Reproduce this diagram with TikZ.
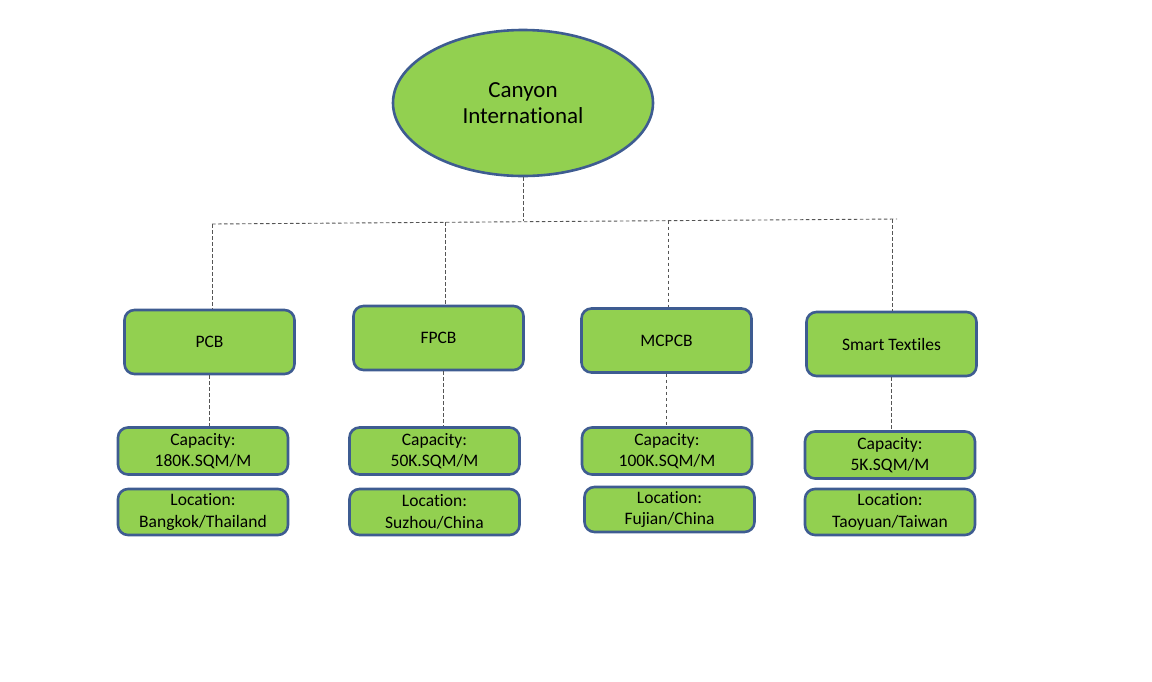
\documentclass[tikz,border=0pt]{standalone}
\usepackage{fontspec}
\setmainfont{Carlito}[Ligatures=NoCommon]
\usetikzlibrary{shapes.geometric}
\definecolor{boxfill}{HTML}{92D050}
\definecolor{boxline}{HTML}{3E5C91}
\definecolor{dashgray}{HTML}{555555}
\begin{document}
\begin{tikzpicture}[x=1pt,y=-1pt,
  unitbox/.style={draw=boxline,fill=boxfill,line width=2.6pt,rounded corners=10pt,
    minimum width=170pt,minimum height=64pt,inner sep=0pt,align=center,
    font=\fontsize{17.5}{21.5}\selectfont},
  infobox/.style={unitbox,minimum height=47pt},
  link/.style={draw=dashgray,line width=0.9pt,dash pattern=on 3.5pt off 2.5pt}]
\useasboundingbox (0,0) rectangle (1152,681);
\node[ellipse,draw=boxline,fill=boxfill,line width=2.6pt,minimum width=260pt,minimum height=146pt,
  inner sep=0pt,align=center,font=\fontsize{23}{26.5}\selectfont] (top) at (523,103) {Canyon\\International};

\node[unitbox] (pcb) at (209.5,342) {PCB};
\node[unitbox] (fpcb) at (438.5,338) {FPCB};
\node[unitbox] (mcpcb) at (666.5,340.5) {MCPCB};
\node[unitbox] (smart) at (891.5,344) {Smart Textiles};

\node[infobox] (cap1) at (203,451) {Capacity:\\180K.SQM/M};
\node[infobox] (cap2) at (434.5,451) {Capacity:\\50K.SQM/M};
\node[infobox] (cap3) at (667,451) {Capacity:\\100K.SQM/M};
\node[infobox] (cap4) at (890,455) {Capacity:\\5K.SQM/M};

\node[infobox,minimum height=46pt] (loc1) at (203,512) {Location:\\Bangkok/Thailand};
\node[infobox,minimum height=46pt] (loc2) at (434.5,512) {Location:\\Suzhou/China};
\node[infobox,minimum height=45pt] (loc3) at (669.5,509.5) {Location:\\Fujian/China};
\node[infobox,minimum height=46pt] (loc4) at (890,512) {Location:\\Taoyuan/Taiwan};

\coordinate (busL) at (212,224);
\coordinate (busR) at (897,219);
\coordinate (jc) at (523,221);
\coordinate (d1) at (212,224);
\coordinate (d2) at (445,222.3);
\coordinate (d3) at (668,220.7);
\coordinate (d4) at (892,219);

\draw[link] (top.south) -- (jc);
\draw[link] (busL) -- (busR);
\draw[link] (d1) -- (d1 |- pcb.north);
\draw[link] (d2) -- (d2 |- fpcb.north);
\draw[link] (d3) -- (d3 |- mcpcb.north);
\draw[link] (d4) -- (d4 |- smart.north);

\draw[link] (pcb.south) -- (pcb.south |- cap1.north);
\draw[link] ([xshift=5pt]fpcb.south) -- ([xshift=5pt]fpcb.south |- cap2.north);
\draw[link] (mcpcb.south) -- (mcpcb.south |- cap3.north);
\draw[link] (smart.south) -- (smart.south |- cap4.north);
\end{tikzpicture}
\end{document}
